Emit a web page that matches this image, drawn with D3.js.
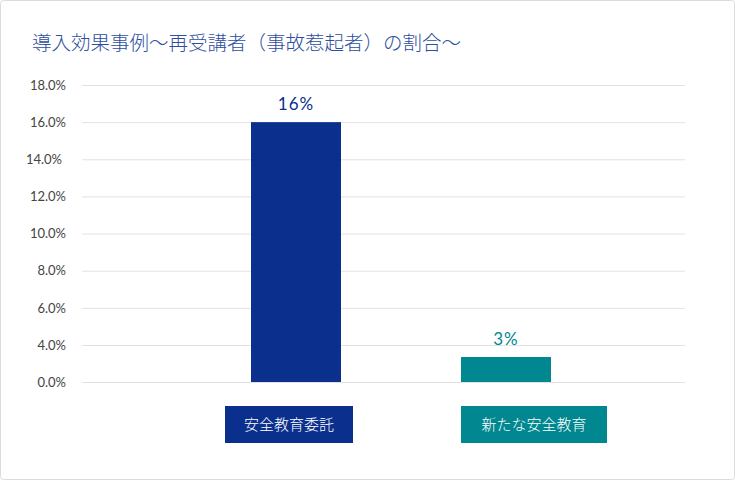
<!DOCTYPE html>
<html><head><meta charset="utf-8">
<script src="https://cdn.jsdelivr.net/npm/d3@7"></script>
<style>
html,body{margin:0;padding:0;background:#fff;}
svg{display:block;}
</style></head>
<body>
<svg id="chart" width="735" height="480"></svg>
<script>
const title = "導入効果事例～再受講者（事故惹起者）の割合～";
const categories = ["安全教育委託", "新たな安全教育"];
const values = [16, 2.7];
const valueLabels = ["16%", "3%"];
const tickValues = [0, 4, 6, 8, 10, 12, 14, 16, 18];
const tickLabels = ["0.0%", "4.0%", "6.0%", "8.0%", "10.0%", "12.0%", "14.0%", "16.0%", "18.0%"];
const colors = ["#0a2f8c", "#00878f"];

const svg = d3.select("#chart");
const font = "'Noto Sans CJK JP', 'Noto Sans', sans-serif";

svg.append("rect").attr("x", 0.5).attr("y", 0.5).attr("width", 734).attr("height", 479)
  .attr("rx", 3).attr("fill", "#fff").attr("stroke", "#dcdcdc");

svg.append("text").attr("x", 32).attr("y", 50).text(title)
  .attr("font-family", font).attr("font-size", 19.5).attr("font-weight", 300).attr("fill", "#2d4e9e");

// piecewise y scale (axis labels skip 2.0%)
const y = d3.scaleLinear().domain([0, 4, 18]).range([382, 345, 85]);
const x = d3.scaleOrdinal().domain(categories).range([296, 506]);
const barW = 90;

// gridlines
const grid = svg.append("g").attr("transform", "translate(82,0)")
  .call(d3.axisLeft(y).tickValues(tickValues).tickSize(-603).tickFormat(""));
grid.select(".domain").remove();
grid.selectAll(".tick line").attr("stroke", "#e2e2e2");

// tick labels
const ax = svg.append("g").attr("transform", "translate(66,0)")
  .call(d3.axisLeft(y).tickValues(tickValues).tickSize(0).tickPadding(0)
    .tickFormat((d, i) => tickLabels[i]));
ax.select(".domain").remove();
ax.selectAll("text").attr("font-family", "'Lato', 'Noto Sans', sans-serif")
  .attr("font-size", 13).attr("fill", "#444").attr("font-weight", 400);
ax.selectAll(".tick").filter(d => d === 14).select("text").attr("dx", -4);

// bars
svg.selectAll(".bar").data(categories).join("rect")
  .attr("x", d => x(d) - barW / 2)
  .attr("y", (d, i) => y(values[i]))
  .attr("width", barW)
  .attr("height", (d, i) => y(0) - y(values[i]))
  .attr("fill", (d, i) => colors[i]);

// value labels
svg.selectAll(".vl").data(categories).join("text")
  .attr("x", d => x(d))
  .attr("y", (d, i) => y(values[i]) - 12)
  .attr("text-anchor", "middle")
  .attr("font-family", "'Lato', 'Noto Sans', sans-serif")
  .attr("font-size", 17).attr("letter-spacing", 1)
  .attr("fill", (d, i) => colors[i])
  .text((d, i) => valueLabels[i]);

// category boxes
const boxX = [225, 461], boxW = [128, 146];
categories.forEach((c, i) => {
  svg.append("rect").attr("x", boxX[i]).attr("y", 406).attr("width", boxW[i]).attr("height", 37)
    .attr("fill", colors[i]);
  svg.append("text").attr("x", boxX[i] + boxW[i] / 2).attr("y", 430)
    .attr("text-anchor", "middle").attr("font-family", font)
    .attr("font-size", 15).attr("font-weight", 300).attr("fill", "#fff").text(c);
});
</script>
</body></html>
